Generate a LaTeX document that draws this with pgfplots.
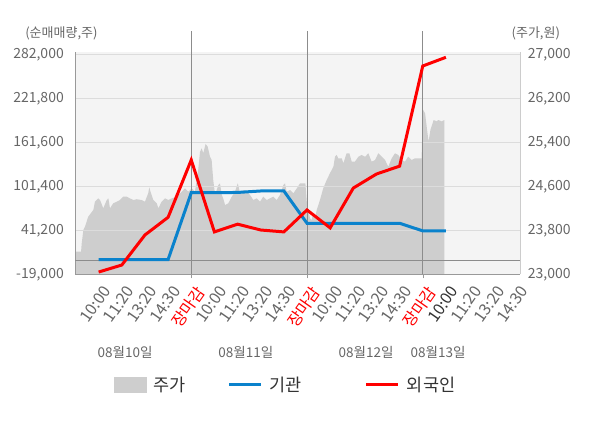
\documentclass[border=0pt]{standalone}
\usepackage{fontspec}
\setmainfont{Noto Sans CJK KR}
\usepackage{pgfplots}
\pgfplotsset{compat=1.18}
\definecolor{bgc}{HTML}{F4F4F4}
\definecolor{areac}{HTML}{CECECE}
\definecolor{gridc}{HTML}{DCDCDC}
\definecolor{linec}{HTML}{8C8C8C}
\definecolor{spinec}{HTML}{999999}
\definecolor{rspinec}{HTML}{CCCCCC}
\definecolor{bluec}{HTML}{0A82CC}
\definecolor{redc}{HTML}{FF0000}
\definecolor{txt}{HTML}{666666}
\definecolor{dtxt}{HTML}{333333}
\newcommand{\fs}[1]{\fontsize{#1}{#1}\selectfont}
\begin{document}
\begin{tikzpicture}
\useasboundingbox (-75.5bp,-153.7bp) rectangle (524.5bp,274.3bp);
% price axis (right)
\begin{axis}[
  at={(0,0)}, anchor=south west,
  width=444.5bp, height=222.6bp, scale only axis,
  xmin=0, xmax=19.2,
  ymin=23000, ymax=27047,
  scaled y ticks=false,
  hide x axis,
  axis y line*=right,
  y axis line style={draw=rspinec},
  ytick={23000,23800,24600,25400,26200,27000},
  yticklabels={{23,000},{23,800},{24,600},{25,400},{26,200},{27,000}},
  major tick length=0,
  yticklabel style={font=\fs{14bp}, text=txt, anchor=west, inner sep=0pt, xshift=7.7bp},
  axis background/.style={fill=bgc},
]
\addplot[fill=areac, draw=none] coordinates {
(0.02,23000) (0.02,23411) (0.24,23411) (0.27,23569) (0.34,23805) (0.41,23866)
(0.55,24047) (0.66,24109) (0.77,24169) (0.84,24320) (0.98,24381) (1.06,24351)
(1.20,24200) (1.35,24350) (1.42,24381) (1.49,24200) (1.63,24290) (1.78,24320)
(1.92,24350) (2.06,24411) (2.21,24411) (2.35,24381) (2.50,24350) (2.64,24365)
(2.86,24350) (3.00,24320) (3.14,24472) (3.19,24582) (3.22,24530) (3.36,24350)
(3.51,24290) (3.58,24200) (3.72,24320) (3.87,24381) (4.01,24350) (4.16,24381)
(4.37,24411) (4.59,24502) (4.73,24563) (4.87,24502) (4.95,24532) (5.02,24563)
(5.16,24502) (5.30,24896) (5.38,25229) (5.45,25290) (5.52,25200) (5.62,25369)
(5.71,25320) (5.81,25138) (5.88,25078) (5.95,24714) (6.03,24441) (6.17,24623)
(6.24,24654) (6.32,24441) (6.38,24381) (6.46,24260) (6.60,24290) (6.75,24411)
(6.89,24502) (7.01,24654) (7.11,24472) (7.25,24532) (7.40,24502) (7.54,24441)
(7.68,24351) (7.83,24381) (7.97,24320) (8.11,24411) (8.26,24350) (8.40,24381)
(8.54,24411) (8.69,24350) (8.83,24441) (8.98,24623) (9.05,24654) (9.12,24502)
(9.27,24532) (9.41,24472) (9.56,24563) (9.70,24654) (9.84,24654) (9.93,24654)
(9.99,24320) (10.06,24169) (10.13,24018) (10.20,23987) (10.27,24109) (10.35,24018)
(10.42,24169) (10.49,24260) (10.56,24351) (10.70,24563) (10.85,24714) (10.99,24836)
(11.14,24957) (11.21,25138) (11.28,25169) (11.35,25109) (11.50,25109) (11.57,25018)
(11.71,25200) (11.83,25200) (11.93,25048) (12.07,25048) (12.22,25138) (12.36,25169)
(12.51,25138) (12.65,25200) (12.79,25048) (12.94,25078) (13.08,25200) (13.23,25138)
(13.37,25078) (13.51,24957) (13.66,25109) (13.80,25200) (13.94,25169) (14.09,25078)
(14.23,25048) (14.37,25138) (14.52,25078) (14.66,25109) (14.81,25109) (14.95,25109)
(15.00,26000) (15.10,25927) (15.17,25684) (15.25,25411) (15.33,25623) (15.40,25714)
(15.47,25805) (15.60,25780) (15.67,25805) (15.82,25780) (15.93,25805) (15.93,23000)
} -- cycle;
\end{axis}
% volume axis (left)
\begin{axis}[
  at={(0,0)}, anchor=south west,
  width=444.5bp, height=222.6bp, scale only axis,
  clip mode=individual,
  xmin=0, xmax=19.2,
  ymin=-19000, ymax=285557,
  scaled y ticks=false, scaled x ticks=false,
  axis x line*=bottom, axis y line*=left,
  axis line style={draw=spinec},
  major tick length=0,
  xtick={1,...,19},
  xticklabels={10:00,11:20,13:20,14:30,\textcolor{redc}{장마감},
               10:00,11:20,13:20,14:30,\textcolor{redc}{장마감},
               10:00,11:20,13:20,14:30,\textcolor{redc}{장마감},
               \textcolor{dtxt}{10:00},11:20,13:20,14:30},
  xticklabel style={font=\fs{16bp}, text=txt, inner sep=0pt, xshift=3.5bp, yshift=-10bp, rotate=55, anchor=north east},
  ytick={-19000,41200,101400,161600,221800,282000},
  yticklabels={{-19,000},{41,200},{101,400},{161,600},{221,800},{282,000}},
  yticklabel style={font=\fs{14bp}, text=txt, anchor=east, inner sep=0pt, xshift=-11.5bp},
  ymajorgrids, major grid style={draw=gridc, line width=0.8bp},
  extra x ticks={5,10,15}, extra x tick labels={},
  extra x tick style={grid=major, major grid style={draw=linec, line width=0.8bp}, major tick length=4bp, tick align=outside, tick style={draw=spinec}},
  extra y ticks={0}, extra y tick labels={},
  extra y tick style={grid=major, major grid style={draw=linec, line width=0.8bp}},
  legend columns=3,
  legend style={at={(0.0866,-0.497)}, anchor=west, draw=none, fill=none, inner sep=0pt,
    font=\fs{17.5bp}, text=dtxt,
    nodes={inner sep=0pt},
    /tikz/every odd column/.append style={column sep=7bp},
    /tikz/column 2/.append style={column sep=42bp},
    /tikz/column 4/.append style={column sep=63bp}},
]
\addlegendimage{legend image code/.code={\fill[areac] (0bp,-7.5bp) rectangle (32bp,7.5bp);}}
\addlegendentry{주가}
\addplot[bluec, line width=3bp, legend image code/.code={\draw[bluec, line width=3bp] (0bp,0bp) -- (32bp,0bp);}] coordinates {
(1,1200) (2,1200) (3,1200) (4,1200) (5,92600) (6,92600) (7,93000) (8,95000)
(9,95000) (10,50800) (11,50800) (12,50800) (13,50800) (14,50800) (15,40400) (16,40400)
};
\addlegendentry{기관}
\addplot[redc, line width=3bp, legend image code/.code={\draw[redc, line width=3bp] (0bp,0bp) -- (32bp,0bp);}] coordinates {
(1,-15900) (2,-6300) (3,34800) (4,59000) (5,137400) (6,39000) (7,49600) (8,41600)
(9,39000) (10,69000) (11,44500) (12,99000) (13,118200) (14,129000) (15,266000) (16,277900)
};
\addlegendentry{외국인}
\foreach \xv in {5,10,15} {
  \edef\tmp{\noexpand\draw[linec, line width=0.8bp] (axis cs:\xv,285557) -- ++(0,6.7bp);}\tmp
}
\node[font=\fs{13.5bp}, text=txt] at ([yshift=-77.7bp]axis cs:2.14,-19000) {08월10일};
\node[font=\fs{13.5bp}, text=txt] at ([yshift=-77.7bp]axis cs:7.36,-19000) {08월11일};
\node[font=\fs{13.5bp}, text=txt] at ([yshift=-77.7bp]axis cs:12.55,-19000) {08월12일};
\node[font=\fs{13.5bp}, text=txt] at ([yshift=-77.7bp]axis cs:15.66,-19000) {08월13일};
\node[font=\fs{13bp}, text=txt] at ([xshift=-14.1bp, yshift=18.4bp]rel axis cs:0,1) {(순매매량,주)};
\node[font=\fs{13bp}, text=txt] at ([xshift=15.8bp, yshift=18.4bp]rel axis cs:1,1) {(주가,원)};
\end{axis}
\end{tikzpicture}
\end{document}
